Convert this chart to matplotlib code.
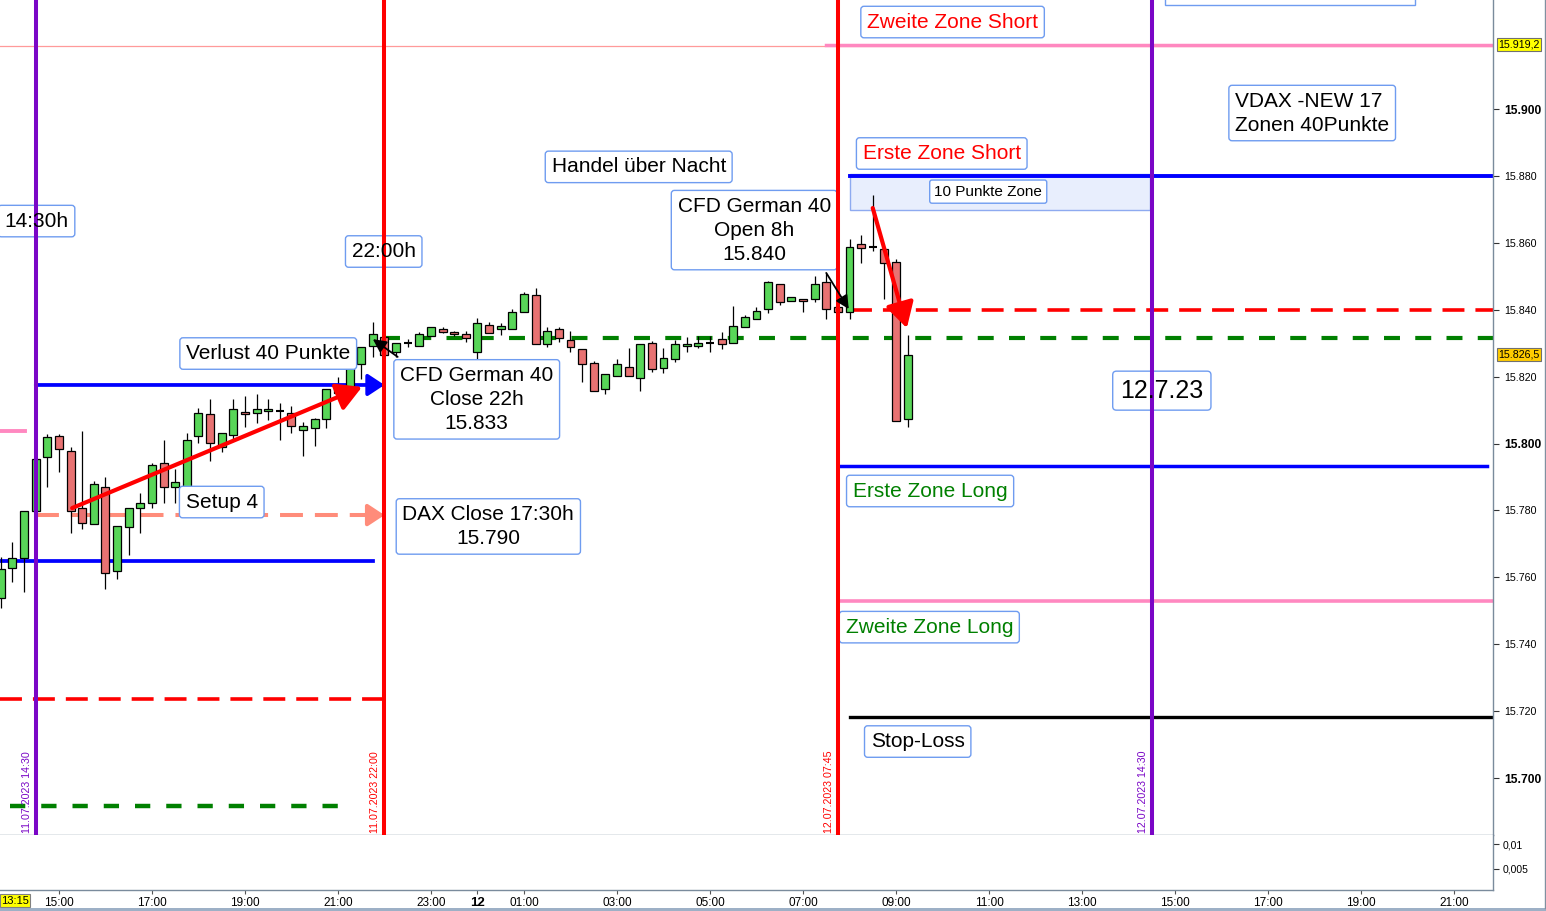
import matplotlib
matplotlib.use("Agg")
import matplotlib.pyplot as plt
import matplotlib.dates as mdates
from matplotlib.patches import Rectangle
from matplotlib.lines import Line2D
import pandas as pd
from datetime import datetime as dt

plt.rcParams['font.family'] = ['Liberation Sans', 'DejaVu Sans']
plt.rcParams['lines.scale_dashes'] = False

# ---------------- data (15-minute candles, CFD German 40) ----------------
candle_start = dt(2023, 7, 11, 13, 45)
opens = [15753.8, 15762.7, 15765.7, 15779.8, 15796.0, 15802.2, 15797.8, 15780.7, 15775.9, 15787.0,
         15761.9, 15775.0, 15780.7, 15782.2, 15794.2, 15787.0, 15787.0, 15802.2, 15808.8, 15799.0,
         15802.5, 15809.4, 15809.1, 15809.7, 15809.7, 15809.1, 15804.0, 15804.6, 15807.3, 15816.3,
         15816.3, 15823.8, 15829.1, 15831.8, 15827.4, 15830.1, 15829.1, 15832.1, 15834.2, 15833.3,
         15832.7, 15827.4, 15835.4, 15834.2, 15834.2, 15839.3, 15844.4, 15829.7, 15834.2, 15830.9,
         15828.2, 15824.1, 15816.3, 15820.2, 15822.9, 15819.6, 15830.0, 15822.6, 15825.3, 15829.1,
         15829.1, 15830.0, 15831.2, 15830.0, 15834.8, 15837.2, 15840.2, 15847.7, 15842.6, 15843.2,
         15843.2, 15848.3, 15840.8, 15839.3, 15859.6, 15858.7, 15858.1, 15854.3, 15807.3]
highs = [15766.1, 15770.6, 15779.8, 15795.4, 15802.8, 15802.8, 15799.0, 15803.7, 15788.8, 15790.0,
         15775.3, 15780.7, 15785.2, 15794.2, 15801.0, 15792.4, 15803.1, 15810.6, 15813.3, 15803.1,
         15813.3, 15814.2, 15814.8, 15813.3, 15812.1, 15811.2, 15806.4, 15807.6, 15816.3, 15819.9,
         15825.0, 15828.8, 15836.3, 15832.1, 15830.0, 15831.2, 15833.3, 15834.8, 15834.8, 15833.6,
         15833.6, 15837.5, 15836.3, 15836.0, 15840.2, 15845.3, 15846.5, 15834.8, 15834.8, 15833.6,
         15828.2, 15824.7, 15820.8, 15825.3, 15828.5, 15829.7, 15830.6, 15828.5, 15830.9, 15831.8,
         15832.1, 15832.1, 15833.3, 15841.1, 15838.4, 15840.8, 15848.6, 15847.7, 15843.8, 15843.2,
         15850.1, 15851.0, 15840.8, 15861.1, 15862.3, 15874.3, 15858.1, 15855.2, 15832.4]
lows = [15750.8, 15758.6, 15755.6, 15779.8, 15787.0, 15791.5, 15773.2, 15774.4, 15775.9, 15756.5,
        15759.5, 15766.7, 15773.2, 15780.7, 15782.2, 15782.2, 15785.5, 15800.1, 15794.8, 15797.5,
        15801.0, 15804.9, 15806.1, 15807.0, 15801.0, 15803.1, 15796.3, 15799.3, 15804.6, 15813.9,
        15816.3, 15819.3, 15825.9, 15826.0, 15826.0, 15828.8, 15829.1, 15832.1, 15833.0, 15832.1,
        15830.3, 15824.4, 15833.0, 15832.4, 15834.2, 15839.3, 15829.7, 15828.8, 15830.3, 15827.4,
        15818.4, 15815.7, 15814.8, 15820.2, 15820.2, 15815.7, 15821.4, 15821.1, 15824.4, 15827.4,
        15828.5, 15827.4, 15828.2, 15830.0, 15834.8, 15837.2, 15839.0, 15841.4, 15842.6, 15839.3,
        15842.3, 15837.2, 15839.3, 15837.2, 15854.0, 15857.5, 15843.2, 15806.7, 15804.9]
closes = [15762.5, 15765.7, 15779.8, 15795.4, 15801.9, 15798.4, 15779.8, 15776.2, 15787.9, 15761.3,
          15775.3, 15780.7, 15782.2, 15793.6, 15787.0, 15788.5, 15801.0, 15809.1, 15800.1, 15803.1,
          15810.3, 15808.8, 15810.3, 15810.3, 15809.7, 15805.2, 15805.2, 15807.3, 15816.3, 15815.1,
          15824.1, 15828.8, 15832.7, 15826.5, 15830.0, 15830.1, 15832.7, 15834.8, 15833.3, 15832.7,
          15831.5, 15836.0, 15833.0, 15835.1, 15839.3, 15844.7, 15829.7, 15833.6, 15831.5, 15828.8,
          15823.8, 15815.7, 15820.8, 15823.8, 15820.2, 15829.7, 15822.3, 15825.6, 15829.7, 15829.7,
          15830.0, 15830.0, 15829.7, 15835.1, 15837.8, 15839.6, 15848.3, 15842.3, 15843.8, 15842.6,
          15847.7, 15840.2, 15839.3, 15858.7, 15858.4, 15858.7, 15854.0, 15806.7, 15826.5]
times = pd.date_range(candle_start, periods=len(opens), freq='15min')

# key levels
zone2_short = 15919.2
zone1_short = 15880.0
ten_pt_low = 15869.8
cfd_open_lvl = 15840.0
cfd_close_lvl = 15831.5
zone1_long = 15793.3
zone2_long = 15752.9
stop_loss = 15718.2
last_price = 15826.5
left_blue_hi = 15817.5
left_blue_lo = 15764.9
left_pink = 15803.7
left_red = 15723.6
left_green = 15691.6
dax_close_lvl = 15778.6

# vertical markers
vline_times = [dt(2023, 7, 11, 14, 30), dt(2023, 7, 11, 22, 0), dt(2023, 7, 12, 7, 45), dt(2023, 7, 12, 14, 30)]
vline_labels = ['11.07.2023 14:30', '11.07.2023 22:00', '12.07.2023 07:45', '12.07.2023 14:30']

# x ticks
xtick_times = [dt(2023, 7, 11, h) for h in (15, 17, 19, 21, 23)] + [dt(2023, 7, 12, 0)] + \
              [dt(2023, 7, 12, h) for h in (1, 3, 5, 7, 9, 11, 13, 15, 17, 19, 21)]
xtick_labels = ['15:00', '17:00', '19:00', '21:00', '23:00', '12', '01:00', '03:00', '05:00', '07:00',
                '09:00', '11:00', '13:00', '15:00', '17:00', '19:00', '21:00']
ytick_vals = [15700, 15720, 15740, 15760, 15780, 15800, 15820, 15840, 15860, 15880, 15900]

# ---------------- styling ----------------
PURPLE = '#7a06c6'
RED = '#ff0000'
BLUE = '#0000ff'
PINK = '#ff88c0'
GREEN_D = '#008000'
SALMON = '#ff8c7a'
GREEN_C = '#58d658'
RED_C = '#e87272'
BOX_EC = '#6f9cf0'
FRAME = '#7a8b9c'
NARROW = ['Liberation Sans Narrow', 'Liberation Sans', 'DejaVu Sans']


def T(d, h, m=0):
    return mdates.date2num(dt(2023, 7, d, h, m))


W, H = 1546, 911
fig = plt.figure(figsize=(W / 100, H / 100), dpi=100)
ax = fig.add_axes([0, 1 - 835 / H, 1493 / W, 835 / H])
ax2 = fig.add_axes([0, 1 - 890 / H, 1493 / W, 55 / H], sharex=ax)

x0 = mdates.date2num(dt(2023, 7, 11, 13, 43, 54))
x1 = mdates.date2num(dt(2023, 7, 12, 21, 50, 18))
ax.set_xlim(x0, x1)
ax.set_ylim(15682.96, 15932.59)

# ---------------- candles ----------------
xs = mdates.date2num(times.to_pydatetime())
bw = 10.3 / 1440
for x, o, h, l, c in zip(xs, opens, highs, lows, closes):
    ax.vlines(x, l, h, color='black', lw=0.9, zorder=3)
    if abs(c - o) < 0.05:
        ax.hlines(o, x - bw / 2, x + bw / 2, color='black', lw=1.5, zorder=4)
    else:
        ax.add_patch(Rectangle((x - bw / 2, min(o, c)), bw, abs(c - o),
                               fc=GREEN_C if c > o else RED_C, ec='black', lw=0.9, zorder=4))

# ---------------- horizontal levels ----------------
ax.plot([x0, x1], [zone2_short - 0.5, zone2_short - 0.5], color='#ff9a9a', lw=0.9, zorder=2)
ax.plot([T(12, 7, 30), x1], [zone2_short, zone2_short], color=PINK, lw=2.5, zorder=2)
ax.add_patch(Rectangle((T(12, 8, 0), ten_pt_low), T(12, 14, 28) - T(12, 8, 0), zone1_short + 0.6 - ten_pt_low,
                       fc='#e8eefd', ec='#8eaaf0', lw=1, zorder=1))
ax.plot([T(12, 8, 0), x1], [zone1_short, zone1_short], color=BLUE, lw=2.8, zorder=2)
ax.plot([T(12, 8, 0), x1], [cfd_open_lvl, cfd_open_lvl], color=RED, lw=2.6, dashes=(15.8, 7.9), zorder=2)
ax.plot([T(11, 22, 0), x1], [cfd_close_lvl, cfd_close_lvl], color=GREEN_D, lw=3.0, dashes=(11.5, 11.0), zorder=2)
ax.plot([T(12, 7, 45), T(12, 21, 42)], [zone1_long, zone1_long], color=BLUE, lw=2.5, zorder=2)
ax.plot([T(12, 7, 45), x1], [zone2_long, zone2_long], color=PINK, lw=2.6, zorder=2)
ax.plot([T(12, 8, 0), x1], [stop_loss, stop_loss], color='black', lw=2.4, zorder=2)

# left side levels
ax.plot([x0, T(11, 14, 16)], [left_pink, left_pink], color=PINK, lw=2.8, zorder=2)
ax.plot([x0, T(11, 21, 45)], [left_blue_lo, left_blue_lo], color=BLUE, lw=2.7, zorder=2)
ax.plot([x0, T(11, 22, 10)], [left_red, left_red], color=RED, lw=2.6, dashes=(15.8, 7.9), zorder=2)
ax.plot([T(11, 13, 57), T(11, 21, 10)], [left_green, left_green], color=GREEN_D, lw=3.2, dashes=(11.0, 11.5), zorder=2)
ax.plot([T(11, 14, 30), T(11, 21, 40)], [dax_close_lvl, dax_close_lvl], color=SALMON, lw=2.9,
        dashes=(16.5, 8.6), zorder=2)
ax.annotate('', xy=(T(11, 22, 0), dax_close_lvl), xytext=(T(11, 21, 38), dax_close_lvl),
            arrowprops=dict(arrowstyle='-|>,head_length=0.5,head_width=0.33', color=SALMON, lw=2.9,
                            mutation_scale=20, shrinkA=0, shrinkB=0), zorder=3)
ax.annotate('', xy=(T(11, 22, 0), left_blue_hi), xytext=(T(11, 14, 30), left_blue_hi),
            arrowprops=dict(arrowstyle='-|>,head_length=0.5,head_width=0.33', color=BLUE, lw=2.7,
                            mutation_scale=20, shrinkA=0, shrinkB=0), zorder=3)

# ---------------- arrows ----------------
ax.annotate('', xy=(T(11, 21, 31), 15816.9), xytext=(T(11, 15, 17), 15780.7),
            arrowprops=dict(arrowstyle='-|>,head_length=0.8,head_width=0.45', color=RED, lw=3.0,
                            mutation_scale=19, shrinkA=0, shrinkB=0), zorder=7)
ax.annotate('', xy=(T(12, 9, 14), 15834.5), xytext=(T(12, 8, 30), 15870.4),
            arrowprops=dict(arrowstyle='-|>,head_length=0.8,head_width=0.45', color=RED, lw=3.0,
                            mutation_scale=19, shrinkA=0, shrinkB=0), zorder=7)
ax.annotate('', xy=(T(12, 7, 59), 15840.2), xytext=(T(12, 7, 30), 15851.0),
            arrowprops=dict(arrowstyle='-|>,head_length=0.8,head_width=0.4', color='black', lw=1.3,
                            mutation_scale=10, shrinkA=0, shrinkB=0), zorder=7)
ax.annotate('', xy=(T(11, 21, 45), 15831.2), xytext=(T(11, 22, 17), 15825.9),
            arrowprops=dict(arrowstyle='-|>,head_length=0.8,head_width=0.4', color='black', lw=1.3,
                            mutation_scale=10, shrinkA=0, shrinkB=0), zorder=7)

# ---------------- vertical lines ----------------
for t, lbl, col in zip(vline_times, vline_labels, [PURPLE, RED, RED, PURPLE]):
    tn = mdates.date2num(t)
    ax.axvline(tn, color=col, lw=2.9, zorder=6)
    ax.annotate(lbl, xy=(tn, 0), xycoords=('data', 'axes fraction'), xytext=(-4, 2),
                textcoords='offset pixels', rotation=90, ha='right', va='bottom',
                fontsize=7.7, color=col, zorder=8)


# ---------------- text boxes ----------------
def label_box(x, y, s, color='black', fs=15, malign='center', pad=0.3):
    kw = dict(ha='center', va='center', fontsize=fs, multialignment=malign, linespacing=1.33)
    ax.text(x, y, s, color=(0, 0, 0, 0), zorder=5,
            bbox=dict(boxstyle=f'round,pad={pad},rounding_size=0.15', fc='white', ec=BOX_EC, lw=1.0), **kw)
    ax.text(x, y, s, color=color, zorder=9, **kw)


label_box(T(11, 14, 31), 15866.5, '14:30h')
label_box(T(11, 21, 59), 15857.4, '22:00h')
label_box(T(11, 19, 30), 15826.9, 'Verlust 40 Punkte')
label_box(T(11, 18, 30), 15782.5, 'Setup 4')
label_box(T(11, 23, 59), 15813.2, 'CFD German 40\nClose 22h\n15.833')
label_box(T(12, 0, 14), 15775.2, 'DAX Close 17:30h\n15.790')
label_box(T(12, 3, 28), 15882.7, 'Handel über Nacht')
label_box(T(12, 5, 57), 15863.8, 'CFD German 40\nOpen 8h\n15.840')
label_box(T(12, 10, 13), 15926.0, 'Zweite Zone Short', color=RED)
label_box(T(12, 9, 59), 15886.7, 'Erste Zone Short', color=RED)
label_box(T(12, 10, 59), 15875.3, '10 Punkte Zone', fs=11)
label_box(T(12, 17, 57), 15898.8, 'VDAX -NEW 17\nZonen 40Punkte', malign='left')
label_box(T(12, 14, 43), 15815.8, '12.7.23', fs=18)
label_box(T(12, 9, 44), 15785.8, 'Erste Zone Long', color=GREEN_D)
label_box(T(12, 9, 43), 15745.1, 'Zweite Zone Long', color=GREEN_D)
label_box(T(12, 9, 28), 15710.9, 'Stop-Loss')
ax.add_patch(Rectangle((T(12, 14, 47), 15931.1), T(12, 20, 10) - T(12, 14, 47), 20,
                       fc='white', ec=BOX_EC, lw=1.0, zorder=5))

# ---------------- axes styling ----------------
for a in (ax, ax2):
    a.spines['left'].set_visible(False)
    a.spines['top'].set_visible(False)
    for s in ('right', 'bottom'):
        a.spines[s].set_color(FRAME)
        a.spines[s].set_linewidth(1.0)
    a.yaxis.tick_right()

ax.set_yticks(ytick_vals)
ax.set_yticklabels([f'{v // 1000}.{v % 1000:03d}' for v in ytick_vals])
ax.tick_params(axis='y', direction='out', length=4, width=0.8, pad=4, labelsize=7.7, color='#333333')
for lbl, v in zip(ax.get_yticklabels(), ytick_vals):
    if v % 100 == 0:
        lbl.set_fontweight('bold')
        lbl.set_fontsize(8.7)
ax.tick_params(axis='x', bottom=False, labelbottom=False)

ax2.set_ylim(0.000625, 0.011875)
ax2.set_yticks([0.005, 0.01])
ax2.set_yticklabels(['0,005', '0,01'])
ax2.tick_params(axis='y', direction='out', length=4, width=0.8, pad=3, labelsize=7.5, color='#333333')
ax2.set_xticks(mdates.date2num(xtick_times))
ax2.set_xticklabels(xtick_labels)
ax2.tick_params(axis='x', direction='out', length=3, width=0.8, pad=2, labelsize=8.5, color='#555555')
for lbl, s in zip(ax2.get_xticklabels(), xtick_labels):
    lbl.set_family(NARROW)
    if s == '12':
        lbl.set_fontweight('bold')
        lbl.set_fontsize(9.5)

# price tags
tr = ax.get_yaxis_transform()
ax.text(1.0035, zone2_short, '15.919,2', transform=tr, ha='left', va='center', fontsize=7.7, clip_on=False,
        bbox=dict(boxstyle='square,pad=0.15', fc='#ffff00', ec='#707070', lw=0.8), zorder=10)
ax.text(1.0035, last_price, '15.826,5', transform=tr, ha='left', va='center', fontsize=7.7, clip_on=False,
        bbox=dict(boxstyle='square,pad=0.15', fc='#ffcc00', ec='#707070', lw=0.8), zorder=10)
fig.text(1 / W, 1 - 900.5 / H, '13:15', ha='left', va='center', fontsize=8, family=NARROW,
         bbox=dict(boxstyle='square,pad=0.12', fc='#ffff00', ec='#808080', lw=0.8))

# window frame
fig.add_artist(Rectangle((0, 0), 1, 3 / H, transform=fig.transFigure, fc='#9db0c6', ec='none'))
fig.add_artist(Line2D([1544.5 / W, 1544.5 / W], [3 / H, 1], transform=fig.transFigure, color='#8090a0', lw=1))

fig.savefig('out.png', dpi=100)
